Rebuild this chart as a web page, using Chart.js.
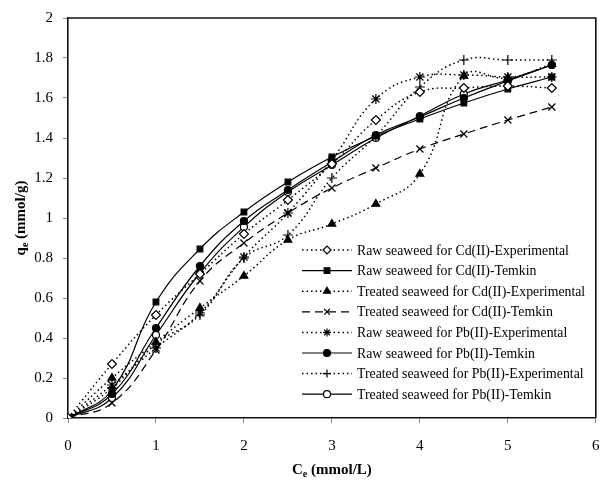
<!DOCTYPE html>
<html>
<head>
<meta charset="utf-8">
<script src="https://cdn.jsdelivr.net/npm/chart.js@4/dist/chart.umd.min.js"></script>
<style>
  html, body { margin: 0; padding: 0; background: #fff; }
  #wrap { width: 602px; height: 481px; position: relative; }
</style>
</head>
<body>
<div id="wrap"><canvas id="isoChart" width="602" height="481"></canvas></div>
<script>
// Equilibrium concentration Ce (mmol/L)
const ceValues = [0, 0.5, 1, 1.5, 2, 2.5, 3, 3.5, 4, 4.5, 5, 5.5];

// qe (mmol/g)
const rawCdExp        = [0, 0.27, 0.515, 0.72, 0.92, 1.09, 1.27, 1.49, 1.63, 1.65, 1.66, 1.65];
const rawCdTemkin     = [0, 0.14, 0.58, 0.845, 1.03, 1.18, 1.305, 1.41, 1.495, 1.575, 1.645, 1.705];
const treatedCdExp    = [0, 0.20, 0.38, 0.55, 0.71, 0.89, 0.97, 1.07, 1.22, 1.71, 1.70, 1.77];
const treatedCdTemkin = [0, 0.075, 0.34, 0.685, 0.875, 1.025, 1.15, 1.25, 1.345, 1.42, 1.49, 1.555];
const rawPbExp        = [0, 0.165, 0.35, 0.525, 0.805, 1.025, 1.29, 1.595, 1.705, 1.715, 1.705, 1.705];
const rawPbTemkin     = [0, 0.12, 0.45, 0.76, 0.985, 1.14, 1.28, 1.415, 1.505, 1.60, 1.685, 1.765];
const treatedPbExp    = [0, 0.15, 0.37, 0.515, 0.80, 0.915, 1.20, 1.41, 1.655, 1.79, 1.79, 1.79];
const treatedPbTemkin = [0, 0.10, 0.415, 0.725, 0.955, 1.13, 1.265, 1.40, 1.51, 1.62, 1.69, 1.765];

const seriesLabels = [
    'Raw seaweed for Cd(II)-Experimental',
    'Raw seaweed for Cd(II)-Temkin',
    'Treated seaweed for Cd(II)-Experimental',
    'Treated seaweed for Cd(II)-Temkin',
    'Raw seaweed for Pb(II)-Experimental',
    'Raw seaweed for Pb(II)-Temkin',
    'Treated seaweed for Pb(II)-Experimental',
    'Treated seaweed for Pb(II)-Temkin'
];

const xTicks = [0, 1, 2, 3, 4, 5, 6];
const yTicks = [0, 0.2, 0.4, 0.6, 0.8, 1, 1.2, 1.4, 1.6, 1.8, 2];

const SERIF = '"Liberation Serif", "Times New Roman", serif';
const DOTS = [1.5, 3];
const DASHES = [8, 5];

function pts(ys) {
    return ys.map((y, i) => ({ x: ceValues[i], y: y }));
}

// line / marker style for each series
const styles = [
    { data: rawCdExp,        dash: DOTS,   width: 1.5, point: 'rectRot',  r: 4.5, fill: '#fff' },
    { data: rawCdTemkin,     dash: [],     width: 1.2, point: 'rect',     r: 4,   fill: '#000' },
    { data: treatedCdExp,    dash: DOTS,   width: 1.5, point: 'triangle', r: 4.5, fill: '#000' },
    { data: treatedCdTemkin, dash: DASHES, width: 1.2, point: 'crossRot', r: 5,   fill: '#000' },
    { data: rawPbExp,        dash: DOTS,   width: 1.5, point: 'star',     r: 5,   fill: '#000' },
    { data: rawPbTemkin,     dash: [],     width: 1.2, point: 'circle',   r: 3.5, fill: '#000' },
    { data: treatedPbExp,    dash: DOTS,   width: 1.5, point: 'cross',    r: 5,   fill: '#000' },
    { data: treatedPbTemkin, dash: [],     width: 1.2, point: 'circle',   r: 3.5, fill: '#fff' }
];

const datasets = styles.map((s, i) => ({
    label: seriesLabels[i],
    data: pts(s.data),
    showLine: true,
    borderColor: '#000',
    borderWidth: s.width,
    borderDash: s.dash,
    tension: 0.45,
    pointStyle: s.point,
    pointRadius: s.r,
    pointBackgroundColor: s.fill,
    pointBorderColor: '#000',
    pointBorderWidth: 1.2,
    fill: false
}));

// top and right edges of the plot frame
const framePlugin = {
    id: 'frame',
    afterDraw(chart) {
        const { ctx, chartArea: a } = chart;
        ctx.save();
        ctx.strokeStyle = '#111';
        ctx.lineWidth = 1.6;
        ctx.beginPath();
        ctx.moveTo(a.left, a.top);
        ctx.lineTo(a.right, a.top);
        ctx.lineTo(a.right, a.bottom);
        ctx.stroke();
        ctx.restore();
    }
};

// axis titles with subscript e
function drawSubTitle(ctx, main, sub, rest, x, y) {
    ctx.font = 'bold 15px ' + SERIF;
    const w1 = ctx.measureText(main).width;
    ctx.font = 'bold 10px ' + SERIF;
    const w2 = ctx.measureText(sub).width;
    ctx.font = 'bold 15px ' + SERIF;
    const w3 = ctx.measureText(rest).width;
    let cx = x - (w1 + w2 + w3) / 2;
    ctx.textBaseline = 'alphabetic';
    ctx.textAlign = 'left';
    ctx.fillText(main, cx, y);
    cx += w1;
    ctx.font = 'bold 10px ' + SERIF;
    ctx.fillText(sub, cx, y + 3);
    cx += w2;
    ctx.font = 'bold 15px ' + SERIF;
    ctx.fillText(rest, cx, y);
}

const titlesPlugin = {
    id: 'axisTitles',
    afterDraw(chart) {
        const { ctx, chartArea: a } = chart;
        ctx.save();
        ctx.fillStyle = '#000';
        drawSubTitle(ctx, 'C', 'e', ' (mmol/L)', (a.left + a.right) / 2, 474);
        ctx.translate(25, (a.top + a.bottom) / 2);
        ctx.rotate(-Math.PI / 2);
        drawSubTitle(ctx, 'q', 'e', ' (mmol/g)', 0, 0);
        ctx.restore();
    }
};

// legend drawn inside the plot area
const legendPlugin = {
    id: 'innerLegend',
    afterDraw(chart) {
        const ctx = chart.ctx;
        ctx.save();
        chart.data.datasets.forEach((ds, i) => {
            const y = 250 + i * 20.6;
            ctx.strokeStyle = '#000';
            ctx.lineWidth = ds.borderWidth;
            ctx.setLineDash(ds.borderDash);
            ctx.beginPath();
            ctx.moveTo(302, y);
            ctx.lineTo(352, y);
            ctx.stroke();
            ctx.setLineDash([]);
            ctx.fillStyle = ds.pointBackgroundColor;
            ctx.strokeStyle = '#000';
            ctx.lineWidth = 1.2;
            Chart.helpers.drawPoint(ctx, {
                pointStyle: ds.pointStyle,
                radius: Math.min(ds.pointRadius, 4),
                rotation: 0,
                borderWidth: 1.2
            }, 327, y);
            ctx.fillStyle = '#000';
            ctx.font = '13.8px ' + SERIF;
            ctx.textAlign = 'left';
            ctx.textBaseline = 'middle';
            ctx.fillText(ds.label, 357, y + 1);
        });
        ctx.restore();
    }
};

new Chart(document.getElementById('isoChart'), {
    type: 'scatter',
    data: { datasets: datasets },
    options: {
        responsive: false,
        animation: false,
        events: [],
        layout: { padding: { left: 0, right: 5, top: 18, bottom: 0 } },
        plugins: {
            legend: { display: false },
            tooltip: { enabled: false }
        },
        scales: {
            x: {
                type: 'linear',
                min: 0,
                max: 6,
                afterFit(scale) {
                    scale.height = 63;
                    scale.paddingLeft = 0;
                    scale.paddingRight = 0;
                },
                afterBuildTicks(scale) { scale.ticks = xTicks.map(v => ({ value: v })); },
                grid: { drawOnChartArea: false, drawTicks: true, tickLength: 5, color: '#888', tickWidth: 1 },
                border: { display: true, color: '#111', width: 1.6 },
                ticks: { color: '#000', font: { family: SERIF, size: 15 }, padding: 14, maxRotation: 0 }
            },
            y: {
                type: 'linear',
                min: 0,
                max: 2,
                afterFit(scale) {
                    scale.width = 68;
                    scale.paddingTop = 0;
                    scale.paddingBottom = 0;
                },
                afterBuildTicks(scale) { scale.ticks = yTicks.map(v => ({ value: v })); },
                grid: { drawOnChartArea: false, drawTicks: true, tickLength: 5, color: '#888', tickWidth: 1 },
                border: { display: true, color: '#111', width: 1.6 },
                ticks: {
                    color: '#000',
                    font: { family: SERIF, size: 15 },
                    padding: 10,
                    callback: v => String(Math.round(v * 10) / 10)
                }
            }
        }
    },
    plugins: [framePlugin, titlesPlugin, legendPlugin]
});
</script>
</body>
</html>
